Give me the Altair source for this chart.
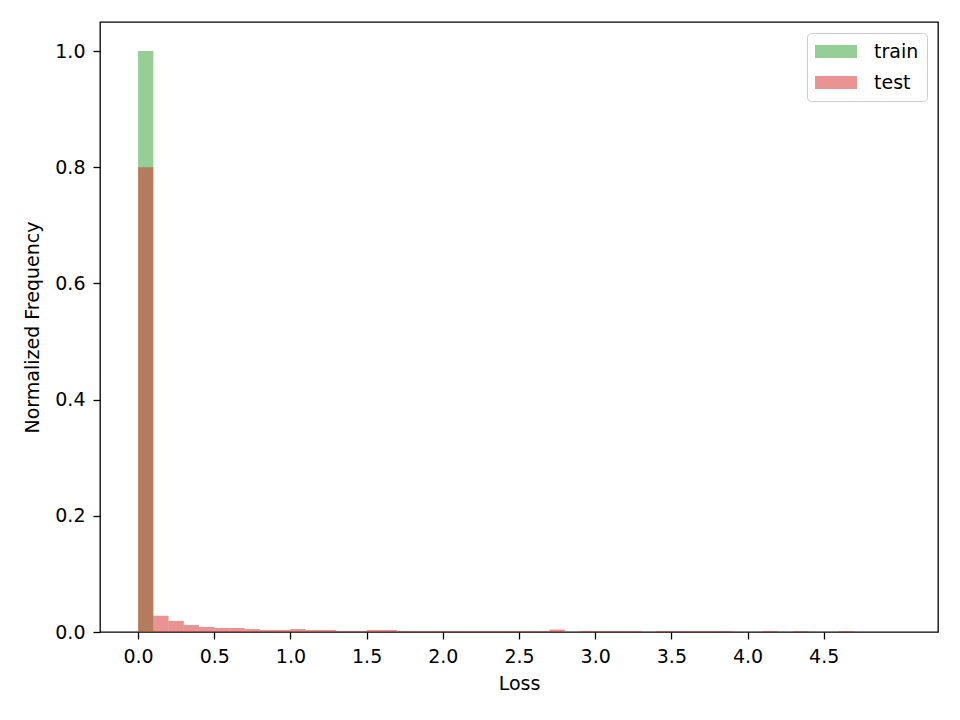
import altair as alt
import pandas as pd

# bin starts (width 0.1) over 0..5
bin_start = [i / 10 for i in range(50)]

train = [1.0] + [0.0] * 49

test = [
    0.80, 0.028, 0.019, 0.012, 0.0086, 0.0069, 0.0069, 0.0052, 0.0035, 0.0035,
    0.0052, 0.0035, 0.0035, 0.0017, 0.0017, 0.0035, 0.0035, 0.0017, 0.0017, 0.0017,
    0.0017, 0.0017, 0.0017, 0.0017, 0.0017, 0.0017, 0.0017, 0.0043, 0.0, 0.0017,
    0.0017, 0.0017, 0.0017, 0.0, 0.0017, 0.0017, 0.0017, 0.0017, 0.0017, 0.0,
    0.0, 0.0017, 0.0, 0.0017, 0.0, 0.0, 0.0017, 0.0, 0.0, 0.0,
]

series = ["train", "test"]
colors = ["#2ca02c", "#d62728"]
x_ticks = [0.0, 0.5, 1.0, 1.5, 2.0, 2.5, 3.0, 3.5, 4.0, 4.5]
y_ticks = [0.0, 0.2, 0.4, 0.6, 0.8, 1.0]

rows = []
for i, s in enumerate(bin_start):
    rows.append({"start": s, "value": train[i], "series": "train", "order": 0})
for i, s in enumerate(bin_start):
    rows.append({"start": s, "value": test[i], "series": "test", "order": 1})
df = pd.DataFrame(rows)

FONT = "DejaVu Sans"

chart = (
    alt.Chart(df)
    .transform_calculate(end="datum.start + 0.1", zero="0")
    .mark_rect(opacity=0.5, strokeWidth=0)
    .encode(
        x=alt.X(
            "start:Q",
            scale=alt.Scale(domain=[-0.25, 5.25], nice=False, zero=False),
            axis=alt.Axis(values=x_ticks, format=".1f", title="Loss"),
        ),
        x2="end:Q",
        y=alt.Y(
            "value:Q",
            scale=alt.Scale(domain=[0, 1.05], nice=False),
            axis=alt.Axis(values=y_ticks, format=".1f", title="Normalized Frequency"),
        ),
        y2="zero:Q",
        color=alt.Color(
            "series:N",
            scale=alt.Scale(domain=series, range=colors),
            legend=alt.Legend(title=None),
        ),
        order=alt.Order("order:Q"),
    )
    .properties(
        width=838,
        height=610,
        autosize=alt.AutoSizeParams(type="none"),
        padding={"left": 92, "top": 14, "right": 14, "bottom": 80},
    )
    .configure_view(stroke="#000000", strokeWidth=1.3)
    .configure_axis(
        grid=False,
        domain=False,
        tickColor="#000000",
        tickSize=7,
        tickWidth=1.3,
        labelFont=FONT,
        labelFontSize=19,
        labelColor="#000000",
        titleFont=FONT,
        titleFontSize=19,
        titleFontWeight="normal",
        titleColor="#000000",
        labelPadding=8,
    )
    .configure_axisX(titlePadding=8)
    .configure_axisY(titlePadding=12)
    .configure_legend(
        orient="top-right",
        offset=11,
        padding=8,
        strokeColor="#cccccc",
        fillColor="#ffffff",
        cornerRadius=4,
        symbolType="M-1,-0.62H3V0.62H-1Z",
        symbolSize=441,
        symbolOpacity=0.5,
        symbolStrokeWidth=0,
        labelFont=FONT,
        labelFontSize=19,
        labelColor="#000000",
        labelOffset=38,
        rowPadding=10,
    )
)

chart.save("out.html", embed_options={"renderer": "svg", "actions": False})
